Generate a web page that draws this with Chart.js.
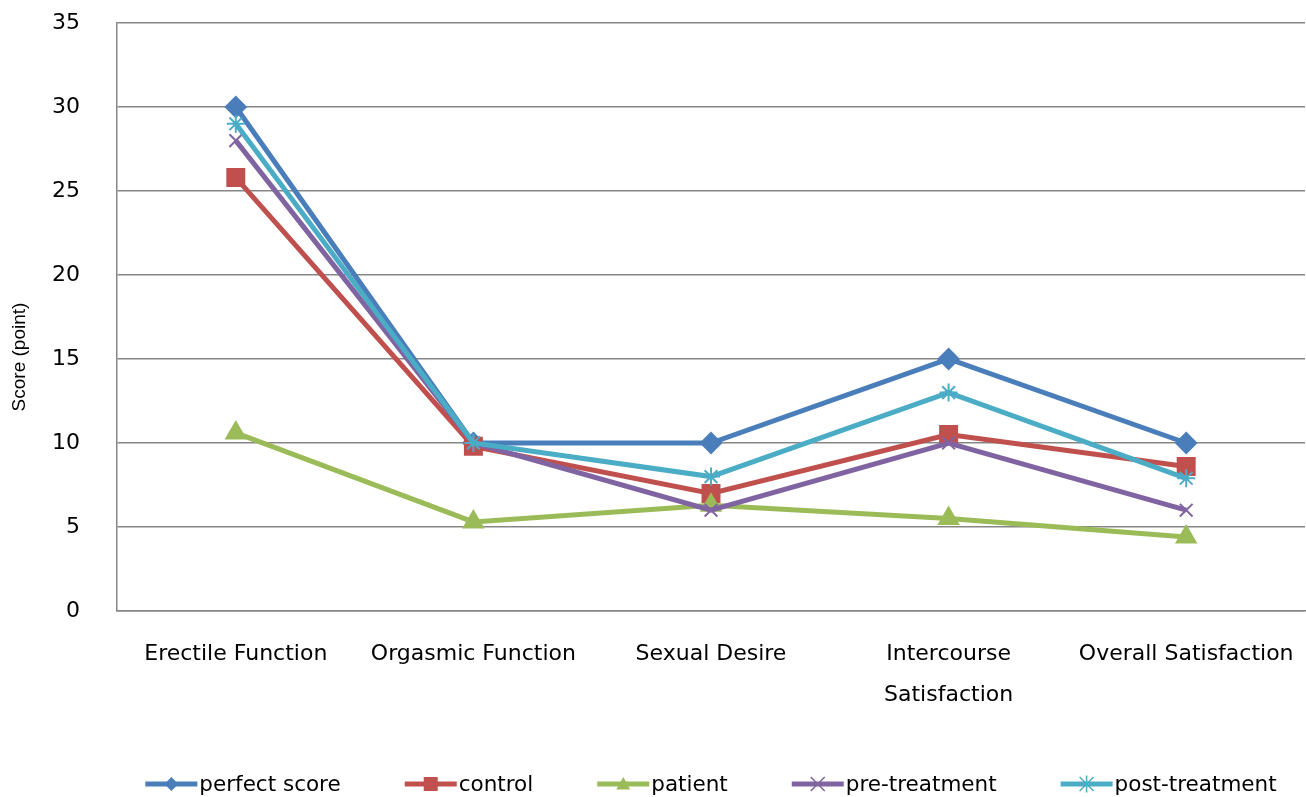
<!DOCTYPE html>
<html><head><meta charset="utf-8">
<script src="https://cdn.jsdelivr.net/npm/chart.js@4"></script>
<style>html,body{margin:0;padding:0;background:#fff}#wrap{width:1306px;height:797px}</style>
</head><body><div id="wrap"><canvas id="c" width="1306" height="797"></canvas></div>
<script>
const categories = ["Erectile Function", "Orgasmic Function", "Sexual Desire", ["Intercourse", "Satisfaction"], "Overall Satisfaction"];
const perfectScore = [30, 10, 10, 15, 10];
const control = [25.8, 9.8, 7.0, 10.5, 8.6];
const patient = [10.6, 5.3, 6.3, 5.5, 4.4];
const preTreatment = [28, 10, 6, 10, 6];
const postTreatment = [29, 10, 8, 13, 7.9];
const yTicks = [0, 5, 10, 15, 20, 25, 30, 35];
const yTitle = 'Score (point)';
const seriesNames = ['perfect score', 'control', 'patient', 'pre-treatment', 'post-treatment'];
const seriesColors = ['#4A7EBB', '#C0504D', '#9BBB59', '#8064A2', '#4BACC6'];

const seriesData = [perfectScore, control, patient, preTreatment, postTreatment];
const styles = ['rectRot', 'rect', 'triangle', 'crossRot', 'star'];
const radii = [10, 12, 11, 9, 9];

function drawMarker(g, style, color, cx, cy, r){
  g.save();
  g.strokeStyle = color; g.fillStyle = color; g.lineWidth = 1.5;
  g.beginPath();
  if (style==='rectRot'){ g.moveTo(cx,cy-r); g.lineTo(cx+r,cy); g.lineTo(cx,cy+r); g.lineTo(cx-r,cy); g.closePath(); g.fill(); }
  else if (style==='rect'){ g.fillRect(cx-r,cy-r,2*r,2*r); }
  else if (style==='triangle'){ g.moveTo(cx,cy-r); g.lineTo(cx+r,cy+r*0.8); g.lineTo(cx-r,cy+r*0.8); g.closePath(); g.fill(); }
  else if (style==='crossRot'){ g.moveTo(cx-r,cy-r); g.lineTo(cx+r,cy+r); g.moveTo(cx+r,cy-r); g.lineTo(cx-r,cy+r); g.stroke(); }
  else { g.moveTo(cx-r,cy-r); g.lineTo(cx+r,cy+r); g.moveTo(cx+r,cy-r); g.lineTo(cx-r,cy+r); g.moveTo(cx,cy-r*1.2); g.lineTo(cx,cy+r*1.2); g.stroke(); }
  g.restore();
}

const legendPlugin = {
  id:'lineLegend',
  afterDraw(chart){
    const g = chart.ctx;
    g.save();
    g.font = '21.5px "DejaVu Sans"';
    const iconW = 52, textGap = 2, itemGap = 64;
    const widths = chart.data.datasets.map(d => iconW + textGap + g.measureText(d.label).width);
    const total = widths.reduce((a,b)=>a+b,0) + itemGap*(widths.length-1);
    const ca = chart.chartArea;
    let x = (ca.left + ca.right)/2 - total/2;
    const y = chart.height - 13;
    chart.data.datasets.forEach((d,i)=>{
      g.strokeStyle = d.borderColor; g.lineWidth = 5;
      g.beginPath(); g.moveTo(x, y); g.lineTo(x+iconW, y); g.stroke();
      drawMarker(g, d.pointStyle, d.borderColor, x+iconW/2, y, 7);
      g.fillStyle = '#000'; g.textBaseline = 'middle'; g.textAlign = 'left';
      g.fillText(d.label, x+iconW+textGap, y+1);
      x += widths[i] + itemGap;
    });
    // y axis title
    g.translate(20, (ca.top + ca.bottom)/2 + 40);
    g.rotate(-Math.PI/2);
    g.font = '19px "Liberation Sans"';
    g.textAlign = 'center'; g.textBaseline = 'middle';
    g.fillText(yTitle, 0, 0);
    g.restore();
  }
};

const datasets = seriesData.map((data,i)=>({
  label:seriesNames[i], data, borderColor:seriesColors[i], backgroundColor:seriesColors[i],
  borderWidth:5, pointStyle:styles[i], pointRadius:radii[i], pointHoverRadius:radii[i],
  pointBorderColor:seriesColors[i], pointBackgroundColor:seriesColors[i], pointBorderWidth:2,
  tension:0, fill:false, order:5-i
}));

new Chart(document.getElementById('c'), {
  type:'line',
  data:{labels:categories, datasets},
  plugins:[legendPlugin],
  options:{
    responsive:false, animation:false, devicePixelRatio:1,
    layout:{autoPadding:false, padding:{top:23, right:1, left:6, bottom:0}},
    plugins:{ tooltip:{enabled:false}, legend:{display:false} },
    scales:{
      x:{
        offset:true,
        grid:{display:true, drawOnChartArea:false, drawTicks:true, tickLength:22, tickColor:'rgba(0,0,0,0)', color:'rgba(0,0,0,0)'},
        border:{display:true, color:'#868686', width:1.5},
        ticks:{font:{family:'DejaVu Sans', size:22, lineHeight:1.9}, color:'#000', padding:0, maxRotation:0, autoSkip:false},
        afterFit:(s)=>{ s.height = 186; s.paddingLeft = 0; s.paddingRight = 0; }
      },
      y:{
        min:0, max:35,
        afterBuildTicks:(s)=>{ s.ticks = yTicks.map(v=>({value:v})); },
        grid:{color:'#868686', lineWidth:1.5, drawTicks:true, tickLength:37, tickColor:'rgba(0,0,0,0)'},
        border:{display:true, color:'#868686', width:1.5},
        ticks:{font:{family:'DejaVu Sans', size:22}, color:'#000', padding:0},
        title:{display:false},
        afterFit:(s)=>{ s.width = 111; }
      }
    }
  }
});
</script>
</body></html>
